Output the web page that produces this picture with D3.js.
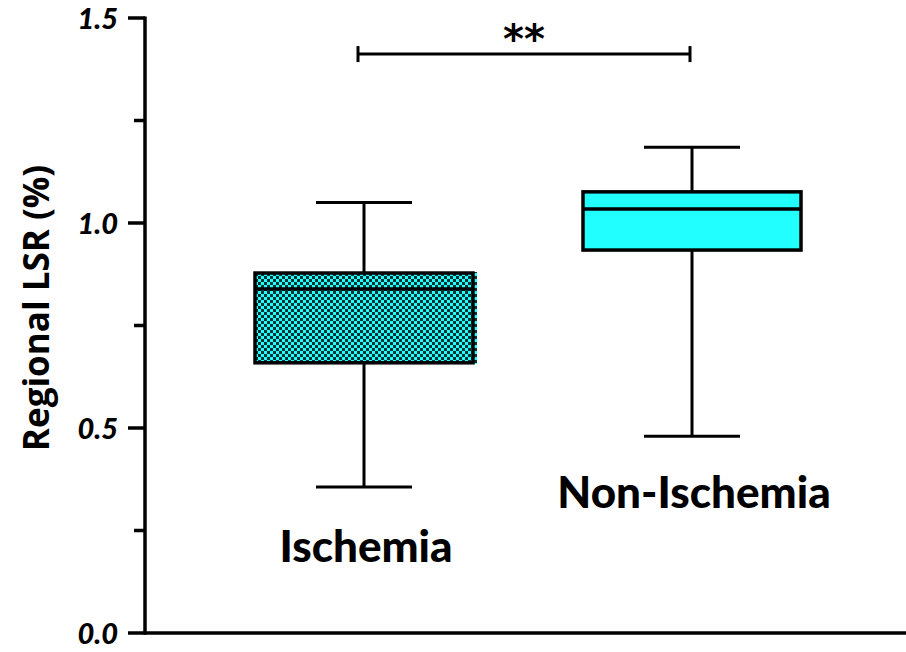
<!DOCTYPE html>
<html><head><meta charset="utf-8">
<script src="https://cdn.jsdelivr.net/npm/d3@7"></script>
<style>body{margin:0;background:#fff}svg{display:block}</style>
</head><body>
<script>
const categories = ["Ischemia", "Non-Ischemia"];
const whiskerLow = [0.356, 0.480];
const q1 = [0.659, 0.934];
const median = [0.839, 1.034];
const q3 = [0.878, 1.076];
const whiskerHigh = [1.050, 1.185];
const majorTicks = [0.0, 0.5, 1.0, 1.5];
const minorTicks = [0.25, 0.75, 1.25];
const tickLabels = ["0.0", "0.5", "1.0", "1.5"];
const sigLevel = 1.412;
const sigText = "**";

const W = 906, H = 652;
const svg = d3.select("body").append("svg").attr("width", W).attr("height", H);
const defs = svg.append("defs");
const pat = defs.append("pattern").attr("id", "chk").attr("patternUnits", "userSpaceOnUse")
  .attr("width", 6).attr("height", 6);
pat.append("rect").attr("width", 6).attr("height", 6).attr("fill", "#22ffff");
pat.append("rect").attr("x", 0).attr("y", 0).attr("width", 3).attr("height", 3).attr("fill", "#000").attr("opacity", 0.8);
pat.append("rect").attr("x", 3).attr("y", 3).attr("width", 3).attr("height", 3).attr("fill", "#000").attr("opacity", 0.8);

const y = d3.scaleLinear().domain([0, 1.5]).range([633, 18]);
const x = d3.scalePoint().domain(categories).range([364, 692]);
const boxW = 218, capW = 96;
const fills = ["url(#chk)", "#22ffff"];

// y axis
const axisX = 145;
const gy = svg.append("g").attr("transform", `translate(${axisX},0)`);
gy.append("line").attr("y1", y(0) + 1.5).attr("y2", y(1.5) - 1.5).attr("stroke", "#000").attr("stroke-width", 3.5);
gy.selectAll(".maj").data(majorTicks).join("line")
  .attr("x1", -17).attr("x2", 0).attr("y1", d => y(d)).attr("y2", d => y(d))
  .attr("stroke", "#000").attr("stroke-width", 3.5);
gy.selectAll(".min").data(minorTicks).join("line")
  .attr("x1", -11).attr("x2", 0).attr("y1", d => y(d)).attr("y2", d => y(d))
  .attr("stroke", "#000").attr("stroke-width", 3.5);
gy.selectAll("text").data(majorTicks).join("text")
  .attr("x", -27).attr("y", d => y(d) + 11)
  .attr("text-anchor", "end").attr("font-family", "Lato, 'Open Sans', sans-serif")
  .attr("font-weight", 900).attr("font-style", "italic").attr("font-size", 29)
  .text((d, i) => tickLabels[i]);

// x axis
svg.append("line").attr("x1", axisX - 1.5).attr("x2", W).attr("y1", y(0)).attr("y2", y(0))
  .attr("stroke", "#000").attr("stroke-width", 3.5);

// y label
svg.append("text").attr("transform", `translate(49,${308}) rotate(-90)`)
  .attr("text-anchor", "middle").attr("font-family", "'Open Sans', sans-serif")
  .attr("font-weight", 700).attr("font-size", 35).text("Regional LSR (%)");

// boxes
const g = svg.append("g");
categories.forEach((c, i) => {
  const cx = x(c);
  const gg = g.append("g");
  gg.append("line").attr("x1", cx).attr("x2", cx).attr("y1", y(whiskerHigh[i])).attr("y2", y(q3[i]))
    .attr("stroke", "#000").attr("stroke-width", 3);
  gg.append("line").attr("x1", cx).attr("x2", cx).attr("y1", y(q1[i])).attr("y2", y(whiskerLow[i]))
    .attr("stroke", "#000").attr("stroke-width", 3);
  gg.append("line").attr("x1", cx - capW / 2).attr("x2", cx + capW / 2).attr("y1", y(whiskerHigh[i])).attr("y2", y(whiskerHigh[i]))
    .attr("stroke", "#000").attr("stroke-width", 3);
  gg.append("line").attr("x1", cx - capW / 2).attr("x2", cx + capW / 2).attr("y1", y(whiskerLow[i])).attr("y2", y(whiskerLow[i]))
    .attr("stroke", "#000").attr("stroke-width", 3);
  if (i === 0) {
    gg.append("rect").attr("x", cx - boxW / 2).attr("y", y(q3[i]) - 1).attr("width", boxW + 4)
      .attr("height", y(q1[i]) - y(q3[i]) + 2).attr("fill", fills[i]);
  }
  gg.append("rect").attr("x", cx - boxW / 2).attr("y", y(q3[i])).attr("width", boxW)
    .attr("height", y(q1[i]) - y(q3[i])).attr("fill", fills[i]).attr("stroke", "#000").attr("stroke-width", 3.5);
  gg.append("line").attr("x1", cx - boxW / 2).attr("x2", cx + boxW / 2).attr("y1", y(median[i])).attr("y2", y(median[i]))
    .attr("stroke", "#000").attr("stroke-width", 3.5);
});

// category labels
const labelY = [562, 508];
svg.selectAll(".cat").data(categories).join("text")
  .attr("x", d => x(d) + 2).attr("y", (d, i) => labelY[i])
  .attr("text-anchor", "middle").attr("font-family", "Lato, sans-serif")
  .attr("font-weight", 900).attr("font-size", 44).text(d => d);

// significance bar
const sy = y(sigLevel);
const x1 = x(categories[0]) - 6, x2 = x(categories[1]) - 2;
svg.append("line").attr("x1", x1).attr("x2", x2).attr("y1", sy).attr("y2", sy).attr("stroke", "#000").attr("stroke-width", 3);
[x1, x2].forEach(xx => svg.append("line").attr("x1", xx).attr("x2", xx).attr("y1", sy - 8).attr("y2", sy + 8)
  .attr("stroke", "#000").attr("stroke-width", 3));
svg.append("text").attr("x", (x1 + x2) / 2).attr("y", 53).attr("text-anchor", "middle")
  .attr("font-family", "'DejaVu Sans', sans-serif").attr("font-weight", 700).attr("font-size", 40).text(sigText);
</script>
</body></html>
